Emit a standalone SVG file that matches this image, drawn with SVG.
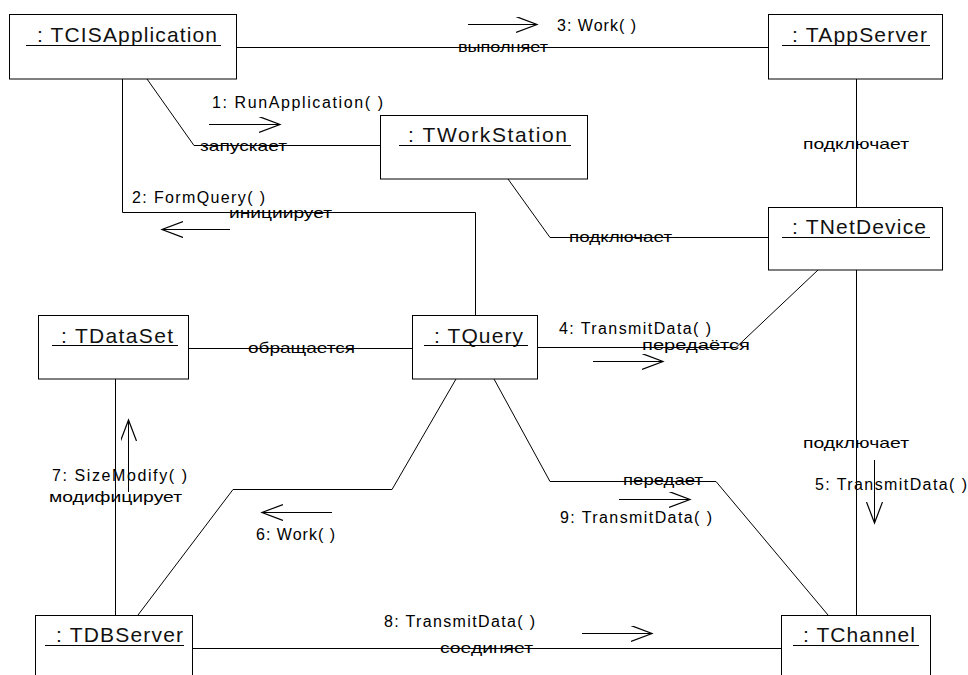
<svg xmlns="http://www.w3.org/2000/svg" width="968" height="675" viewBox="0 0 968 675">
<style>
.box{fill:#fff;stroke:#000;stroke-width:1}
.ln{fill:none;stroke:#000;stroke-width:1}
.ul{stroke:#000;stroke-width:1}
text{font-family:"Liberation Sans",Arial,sans-serif;fill:#000}
.ti{font-size:21px;fill:#111}
.m{font-size:16px}
.l{font-size:15px}
</style>
<defs>
<marker id="ah" markerUnits="userSpaceOnUse" markerWidth="24" markerHeight="18" refX="21" refY="8" orient="auto">
<path d="M0,0 L21,8 L0,16" fill="none" stroke="#000" stroke-width="1.2"/>
</marker>
</defs>
<rect width="968" height="675" fill="#fff"/>
<g id="connectors">
<path class="ln" d="M237,47.5 H768"/>
<polyline class="ln" points="147,79 194,145.5 380,145.5"/>
<polyline class="ln" points="122.5,79 122.5,212.5 475.5,212.5 475.5,315"/>
<polyline class="ln" points="508,179 550,237.5 768,237.5"/>
<path class="ln" d="M856.5,79 V207"/>
<path class="ln" d="M189,348.5 H412"/>
<polyline class="ln" points="538,347.5 736,347.5 818,270"/>
<path class="ln" d="M856.5,270 V615"/>
<polyline class="ln" points="494,379 550,481.5 716,481.5 828,615"/>
<polyline class="ln" points="456,379 392,489.5 233,489.5 138,615"/>
<path class="ln" d="M115.5,379 V615"/>
<path class="ln" d="M193,648.5 H781"/>
<g id="messages">
<path class="ln" d="M209,124.5 H280" marker-end="url(#ah)"/>
<path class="ln" d="M230,229.5 H162" marker-end="url(#ah)"/>
<path class="ln" d="M468,24.5 H537" marker-end="url(#ah)"/>
<path class="ln" d="M593,361.5 H663" marker-end="url(#ah)"/>
<path class="ln" d="M874.5,460 V523" marker-end="url(#ah)"/>
<path class="ln" d="M332,512.5 H262" marker-end="url(#ah)"/>
<path class="ln" d="M128.5,492 V420" marker-end="url(#ah)"/>
<path class="ln" d="M582,633.5 H652" marker-end="url(#ah)"/>
<path class="ln" d="M619,499.5 H690" marker-end="url(#ah)"/>
</g>
<g id="link-labels" class="l">
<text x="458" y="52" textLength="90" lengthAdjust="spacingAndGlyphs">выполняет</text>
<text x="200" y="151" textLength="87" lengthAdjust="spacingAndGlyphs">запускает</text>
<text x="229" y="218" textLength="103" lengthAdjust="spacingAndGlyphs">инициирует</text>
<text x="569" y="242" textLength="103" lengthAdjust="spacingAndGlyphs">подключает</text>
<text x="803" y="149" textLength="106" lengthAdjust="spacingAndGlyphs">подключает</text>
<text x="248" y="353" textLength="107" lengthAdjust="spacingAndGlyphs">обращается</text>
<text x="642" y="350" textLength="108" lengthAdjust="spacingAndGlyphs">передаётся</text>
<text x="803" y="448" textLength="106" lengthAdjust="spacingAndGlyphs">подключает</text>
<text x="623" y="485" textLength="80" lengthAdjust="spacingAndGlyphs">передает</text>
<text x="49" y="502" textLength="133" lengthAdjust="spacingAndGlyphs">модифицирует</text>
<text x="440" y="653" textLength="93" lengthAdjust="spacingAndGlyphs">соединяет</text>
</g>
<g id="message-labels" class="m">
<text x="212" y="108" textLength="171" lengthAdjust="spacing">1: RunApplication( )</text>
<text x="132" y="203" textLength="133" lengthAdjust="spacing">2: FormQuery( )</text>
<text x="557" y="31" textLength="79" lengthAdjust="spacing">3: Work( )</text>
<text x="559" y="334" textLength="152" lengthAdjust="spacing">4: TransmitData( )</text>
<text x="815" y="490" textLength="152" lengthAdjust="spacing">5: TransmitData( )</text>
<text x="256" y="540" textLength="79" lengthAdjust="spacing">6: Work( )</text>
<text x="52" y="481" textLength="135" lengthAdjust="spacing">7: SizeModify( )</text>
<text x="384" y="627" textLength="151" lengthAdjust="spacing">8: TransmitData( )</text>
<text x="560" y="523" textLength="152" lengthAdjust="spacing">9: TransmitData( )</text>
</g>
</g>
<g id="TCISApplication">
<rect class="box" x="9.5" y="14.5" width="227" height="64.5"/>
<text class="ti" x="37" y="41.5" textLength="180" lengthAdjust="spacing">: TCISApplication</text>
<line class="ul" x1="26" y1="45.5" x2="221" y2="45.5"/>
</g>
<g id="TWorkStation">
<rect class="box" x="380.5" y="115.5" width="207" height="63.5"/>
<text class="ti" x="408" y="141.5" textLength="159" lengthAdjust="spacing">: TWorkStation</text>
<line class="ul" x1="399" y1="145.5" x2="571" y2="145.5"/>
</g>
<g id="TAppServer">
<rect class="box" x="768.5" y="14.5" width="174" height="64.5"/>
<text class="ti" x="792" y="41.5" textLength="135" lengthAdjust="spacing">: TAppServer</text>
<line class="ul" x1="782" y1="45.5" x2="930" y2="45.5"/>
</g>
<g id="TNetDevice">
<rect class="box" x="768.5" y="207.5" width="174" height="62.5"/>
<text class="ti" x="792" y="233.5" textLength="134" lengthAdjust="spacing">: TNetDevice</text>
<line class="ul" x1="782" y1="237.5" x2="930" y2="237.5"/>
</g>
<g id="TDataSet">
<rect class="box" x="38.5" y="315.5" width="150" height="63.5"/>
<text class="ti" x="61" y="342.5" textLength="112" lengthAdjust="spacing">: TDataSet</text>
<line class="ul" x1="52" y1="345.5" x2="178" y2="345.5"/>
</g>
<g id="TQuery">
<rect class="box" x="412.5" y="315.5" width="125" height="63.5"/>
<text class="ti" x="434" y="342.5" textLength="89" lengthAdjust="spacing">: TQuery</text>
<line class="ul" x1="424" y1="345.5" x2="528" y2="345.5"/>
</g>
<g id="TDBServer">
<rect class="box" x="35.5" y="615.5" width="157" height="64"/>
<text class="ti" x="56" y="641.5" textLength="127" lengthAdjust="spacing">: TDBServer</text>
<line class="ul" x1="45" y1="645.5" x2="184" y2="645.5"/>
</g>
<g id="TChannel">
<rect class="box" x="781.5" y="615.5" width="149" height="64"/>
<text class="ti" x="803" y="641.5" textLength="112" lengthAdjust="spacing">: TChannel</text>
<line class="ul" x1="793" y1="645.5" x2="919" y2="645.5"/>
</g>
</svg>
